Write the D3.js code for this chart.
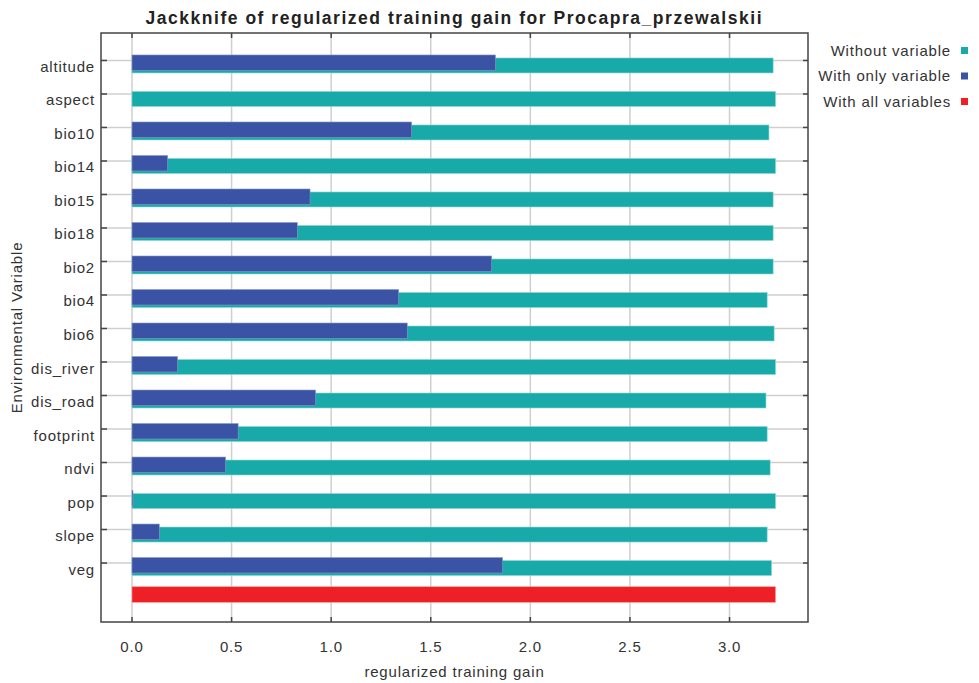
<!DOCTYPE html>
<html>
<head>
<meta charset="utf-8">
<script src="https://cdn.jsdelivr.net/npm/d3@7"></script>
<style>
  html, body { margin: 0; padding: 0; background: #fff; }
  svg { display: block; font-family: "Liberation Sans", Arial, sans-serif; }
</style>
</head>
<body>
<svg id="chart" width="979" height="683"></svg>
<script>
// Environmental variables tested in the jackknife
const variables = ["altitude", "aspect", "bio10", "bio14", "bio15", "bio18", "bio2", "bio4",
  "bio6", "dis_river", "dis_road", "footprint", "ndvi", "pop", "slope", "veg"];

// Regularized training gain when each variable is left out
const withoutVariable = [3.219, 3.231, 3.198, 3.231, 3.219, 3.219, 3.219, 3.189,
  3.224, 3.231, 3.183, 3.189, 3.204, 3.231, 3.189, 3.211];

// Regularized training gain using each variable on its own
const withOnlyVariable = [1.825, 0.0, 1.404, 0.179, 0.894, 0.830, 1.806, 1.339,
  1.382, 0.229, 0.922, 0.533, 0.470, 0.005, 0.137, 1.861];

// Gain of the full model
const withAllVariables = 3.231;

const xTicks = [0, 0.5, 1.0, 1.5, 2.0, 2.5, 3.0];

const legendItems = [
  { label: "Without variable", color: "#17aaa8" },
  { label: "With only variable", color: "#3a53a4" },
  { label: "With all variables", color: "#ee2026" }
];

const svg = d3.select("#chart");
const plot = { left: 101, right: 808, top: 33, bottom: 622 };

// Category rows: every variable plus one unlabeled row for the full model
const rows = variables.concat(["__all__"]);

const x = d3.scaleLinear().domain([-0.1556, 3.394]).range([plot.left, plot.right]);
const y = d3.scaleBand().domain(rows).range([plot.top, plot.bottom]).paddingOuter(0.29).paddingInner(0);
const mid = d => y(d) + y.bandwidth() / 2;

const gridColor = "#cfcfcf";
const axisColor = "#444";
const textColor = "#333";
const fontSize = 15;
const spacing = 0.8;

// Vertical grid lines
svg.append("g").selectAll("line").data(xTicks).join("line")
  .attr("x1", d => x(d)).attr("x2", d => x(d))
  .attr("y1", plot.top).attr("y2", plot.bottom)
  .attr("stroke", gridColor).attr("stroke-width", 1.5);

// Horizontal grid lines at each variable row
svg.append("g").selectAll("line").data(variables).join("line")
  .attr("x1", plot.left).attr("x2", plot.right)
  .attr("y1", d => mid(d) + 1).attr("y2", d => mid(d) + 1)
  .attr("stroke", gridColor).attr("stroke-width", 1.5);

const bars = svg.append("g");

// Without variable (teal), drawn behind
bars.selectAll("rect.without").data(variables).join("rect")
  .attr("class", "without")
  .attr("x", x(0))
  .attr("y", d => mid(d) - 1.5)
  .attr("width", (d, i) => x(withoutVariable[i]) - x(0))
  .attr("height", 15)
  .attr("fill", legendItems[0].color)
  .attr("stroke", "#8fd6d4").attr("stroke-width", 0.6);

// With only variable (blue), slightly raised
bars.selectAll("rect.only").data(variables).join("rect")
  .attr("class", "only")
  .attr("x", x(0))
  .attr("y", d => mid(d) - 4.5)
  .attr("width", (d, i) => Math.max(0, x(withOnlyVariable[i]) - x(0)))
  .attr("height", 15.5)
  .attr("fill", legendItems[1].color)
  .attr("stroke", "#8c9ac8").attr("stroke-width", 0.6);

// With all variables (red)
bars.append("rect")
  .attr("x", x(0))
  .attr("y", mid("__all__") - 8.8)
  .attr("width", x(withAllVariables) - x(0))
  .attr("height", 15.6)
  .attr("fill", legendItems[2].color)
  .attr("stroke", "#f59a9c").attr("stroke-width", 0.6);

// Plot frame
svg.append("rect")
  .attr("x", plot.left).attr("y", plot.top)
  .attr("width", plot.right - plot.left).attr("height", plot.bottom - plot.top)
  .attr("fill", "none").attr("stroke", axisColor).attr("stroke-width", 1.5);

// Inward tick marks on all four sides
const tickLen = 5;
const tg = svg.append("g").attr("stroke", axisColor).attr("stroke-width", 1.5);
xTicks.forEach(t => {
  tg.append("line").attr("x1", x(t)).attr("x2", x(t)).attr("y1", plot.bottom).attr("y2", plot.bottom - tickLen);
  tg.append("line").attr("x1", x(t)).attr("x2", x(t)).attr("y1", plot.top).attr("y2", plot.top + tickLen);
});
variables.forEach(v => {
  const ty = mid(v) + 1;
  tg.append("line").attr("x1", plot.left).attr("x2", plot.left + tickLen + 1).attr("y1", ty).attr("y2", ty);
  tg.append("line").attr("x1", plot.right).attr("x2", plot.right - tickLen).attr("y1", ty).attr("y2", ty);
});

// Category labels
svg.append("g").selectAll("text").data(variables).join("text")
  .attr("x", 95)
  .attr("y", d => mid(d) + 12.5)
  .attr("text-anchor", "end")
  .attr("font-size", fontSize).attr("letter-spacing", spacing)
  .attr("fill", textColor)
  .text(d => d);

// X tick labels
svg.append("g").selectAll("text").data(xTicks).join("text")
  .attr("x", d => x(d))
  .attr("y", 652)
  .attr("text-anchor", "middle")
  .attr("font-size", fontSize).attr("letter-spacing", spacing)
  .attr("fill", textColor)
  .text(d => d3.format(".1f")(d));

// Axis titles
svg.append("text")
  .attr("x", (plot.left + plot.right) / 2).attr("y", 677)
  .attr("text-anchor", "middle").attr("font-size", fontSize).attr("letter-spacing", spacing)
  .attr("fill", textColor)
  .text("regularized training gain");

svg.append("text")
  .attr("transform", `translate(22, ${(plot.top + plot.bottom) / 2}) rotate(-90)`)
  .attr("text-anchor", "middle").attr("font-size", fontSize).attr("letter-spacing", spacing)
  .attr("fill", textColor)
  .text("Environmental Variable");

// Chart title
svg.append("text")
  .attr("x", (plot.left + plot.right) / 2 - 1).attr("y", 24)
  .attr("text-anchor", "middle").attr("font-size", 17.5).attr("font-weight", "bold")
  .attr("textLength", 616).attr("lengthAdjust", "spacing")
  .attr("fill", "#222")
  .text("Jackknife of regularized training gain for Procapra_przewalskii");

// Legend
const lg = svg.append("g");
legendItems.forEach((item, i) => {
  const cy = 50.5 + i * 25.5;
  lg.append("text")
    .attr("x", 951).attr("y", cy + 5)
    .attr("text-anchor", "end").attr("font-size", fontSize).attr("letter-spacing", spacing)
    .attr("fill", textColor)
    .text(item.label);
  lg.append("rect")
    .attr("x", 961).attr("y", cy - 3.5)
    .attr("width", 7).attr("height", 7)
    .attr("fill", item.color);
});
</script>
</body>
</html>
